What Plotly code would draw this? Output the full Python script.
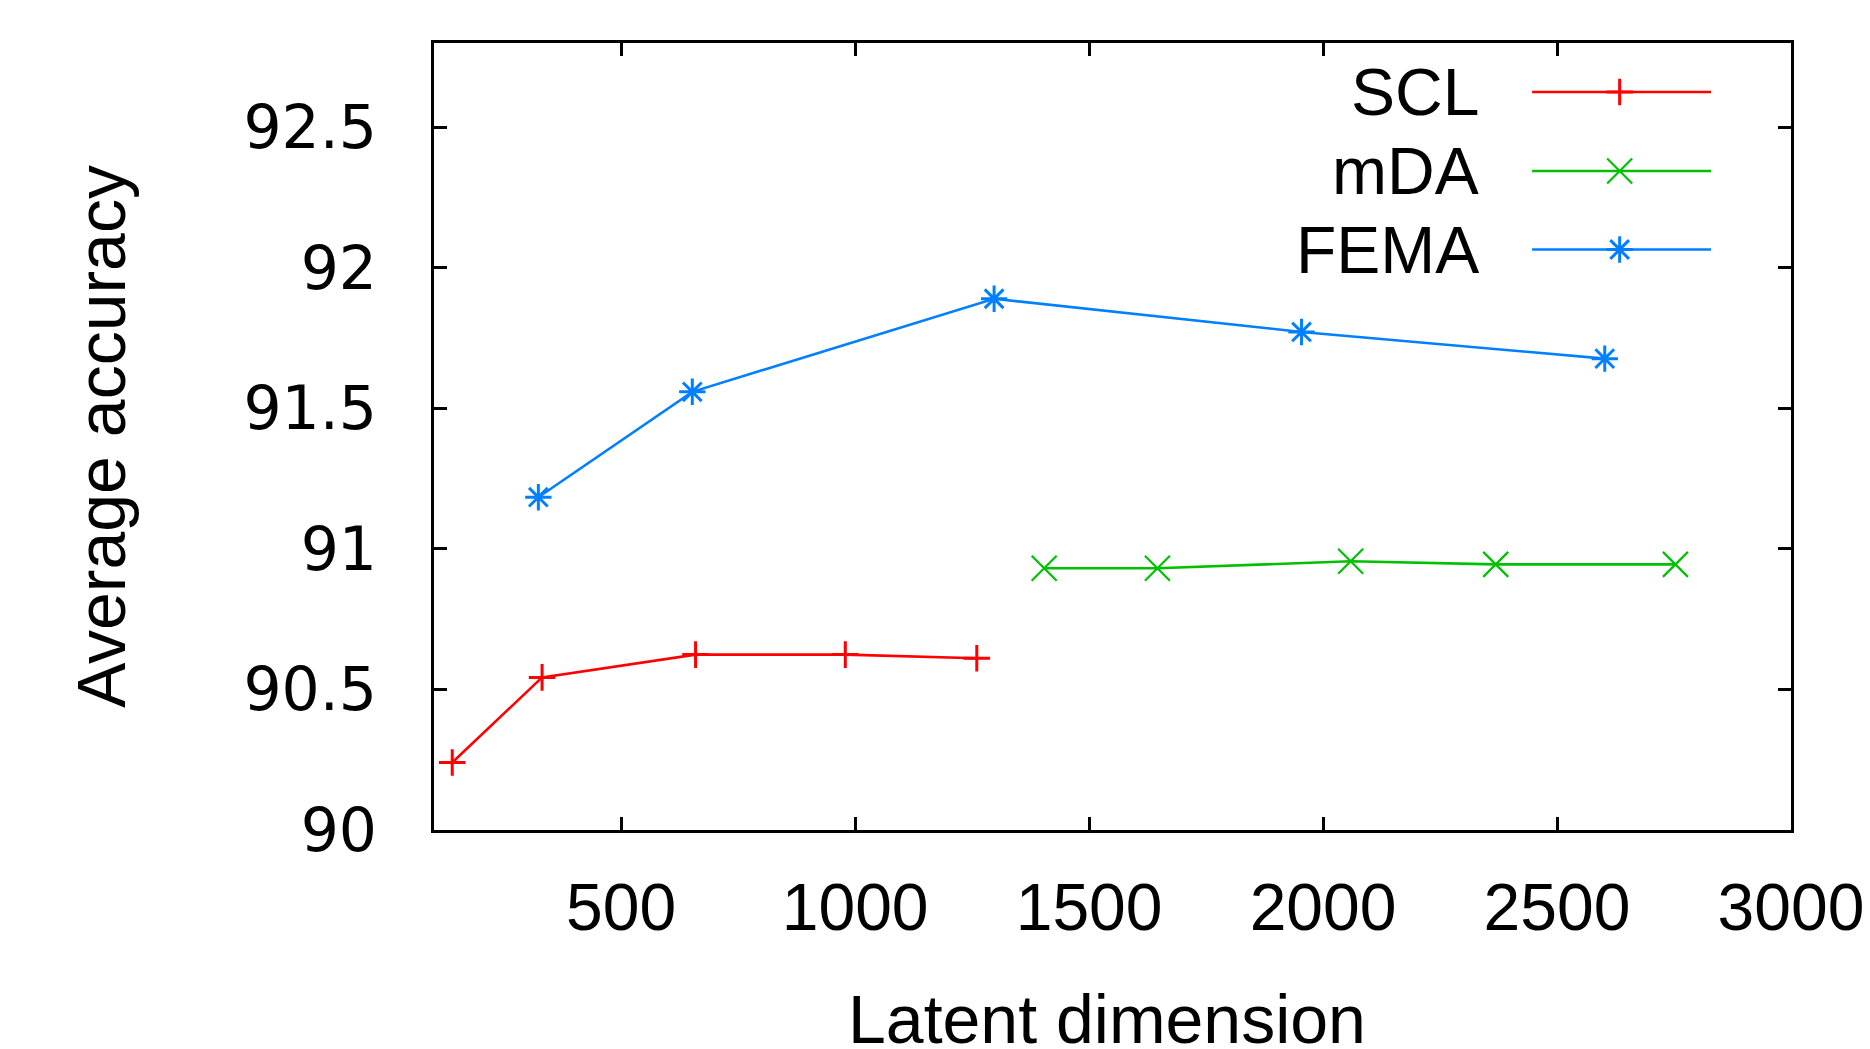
import plotly.graph_objects as go

# ---------------- data ----------------
series_names = ["SCL", "mDA", "FEMA"]
scl_x = [139, 331, 659, 979, 1260]
scl_y = [90.24, 90.543, 90.624, 90.624, 90.611]
mda_x = [1404, 1646, 2059, 2369, 2753]
mda_y = [90.931, 90.931, 90.956, 90.945, 90.945]
fema_x = [323, 652, 1297, 1954, 2602]
fema_y = [91.184, 91.559, 91.89, 91.772, 91.677]

x_ticks = [500, 1000, 1500, 2000, 2500, 3000]
y_ticks = [90, 90.5, 91, 91.5, 92, 92.5]
y_tick_text = ["90", "90.5", "91", "91.5", "92", "92.5"]
x_title = "Latent dimension"
y_title = "Average accuracy"

# ---------------- styles ----------------
colors = ["#ff0000", "#00c000", "#0080ff"]
symbols = ["cross-thin", "x-thin", "asterisk"]
msizes = [19, 25, 22]
mlw = [3, 2.2, 3]

W, H = 1870, 1049
L, R, T, B = 433.5, 1791, 42.7, 830
PW, PH = R - L, B - T
FONT = "Liberation Sans"

fig = go.Figure()
xs = [scl_x, mda_x, fema_x]
ys = [scl_y, mda_y, fema_y]
for i in range(3):
    fig.add_trace(go.Scatter(
        x=xs[i], y=ys[i], mode="lines+markers", name=series_names[i],
        line=dict(color=colors[i], width=2.6),
        marker=dict(symbol=symbols[i], size=msizes[i], color=colors[i],
                    line=dict(color=colors[i], width=mlw[i])),
        showlegend=False, cliponaxis=False))

# legend drawn gnuplot-style (text left, sample right) on a pixel overlay axis
leg_rows = [91.7, 170.7, 249.3]
leg_x0, leg_xm, leg_x1 = 1532, 1619.6, 1711
leg_text_right = 1481
for i in range(3):
    fig.add_trace(go.Scatter(
        x=[leg_x0, leg_x1], y=[leg_rows[i], leg_rows[i]], mode="lines",
        line=dict(color=colors[i], width=2.6), xaxis="x2", yaxis="y2",
        showlegend=False, hoverinfo="skip"))
    fig.add_trace(go.Scatter(
        x=[leg_xm], y=[leg_rows[i]], mode="markers",
        marker=dict(symbol=symbols[i], size=msizes[i], color=colors[i],
                    line=dict(color=colors[i], width=mlw[i])),
        xaxis="x2", yaxis="y2", showlegend=False, hoverinfo="skip"))
    fig.add_annotation(x=leg_text_right, y=leg_rows[i], xref="x2", yref="y2",
                       text=series_names[i], showarrow=False, xanchor="right",
                       yanchor="middle",
                       font=dict(family=FONT, size=66, color="black"))

axis_common = dict(showline=True, linecolor="black", linewidth=3, mirror="allticks",
                   ticks="inside", ticklen=13, tickwidth=3, tickcolor="black",
                   showgrid=False, zeroline=False, automargin=False)

fig.update_layout(
    width=W, height=H,
    margin=dict(l=L, r=W - R, t=T, b=H - B, pad=0, autoexpand=False),
    paper_bgcolor="white", plot_bgcolor="white",
    xaxis=dict(range=[100, 3000], tickvals=x_ticks, ticklabelstandoff=18,
               ticklabeloverflow="allow",
               tickfont=dict(family=FONT, size=66, color="black"), **axis_common),
    yaxis=dict(range=[90, 92.8], tickvals=y_ticks, ticktext=y_tick_text,
               ticklabelstandoff=42,
               tickfont=dict(family="DejaVu Sans", size=60, color="black"), **axis_common),
    xaxis2=dict(overlaying="x", anchor="y2", range=[L, R], visible=False, fixedrange=True),
    yaxis2=dict(overlaying="y", anchor="x2", range=[B, T], visible=False, fixedrange=True),
    showlegend=False,
)

fig.add_annotation(x=0.5 - 6 / PW, y=-(1019 - B) / PH, xref="paper", yref="paper",
                   text=x_title, showarrow=False, xanchor="center", yanchor="middle",
                   font=dict(family=FONT, size=68, color="black"))
fig.add_annotation(x=(100 - L) / PW, y=0.5, xref="paper", yref="paper",
                   text=y_title, showarrow=False, textangle=-90,
                   xanchor="center", yanchor="middle",
                   font=dict(family=FONT, size=68, color="black"))

fig.write_html("out.html", config={"displayModeBar": False, "responsive": False},
               post_script="document.body.style.margin='0';document.body.style.overflow='hidden';")
